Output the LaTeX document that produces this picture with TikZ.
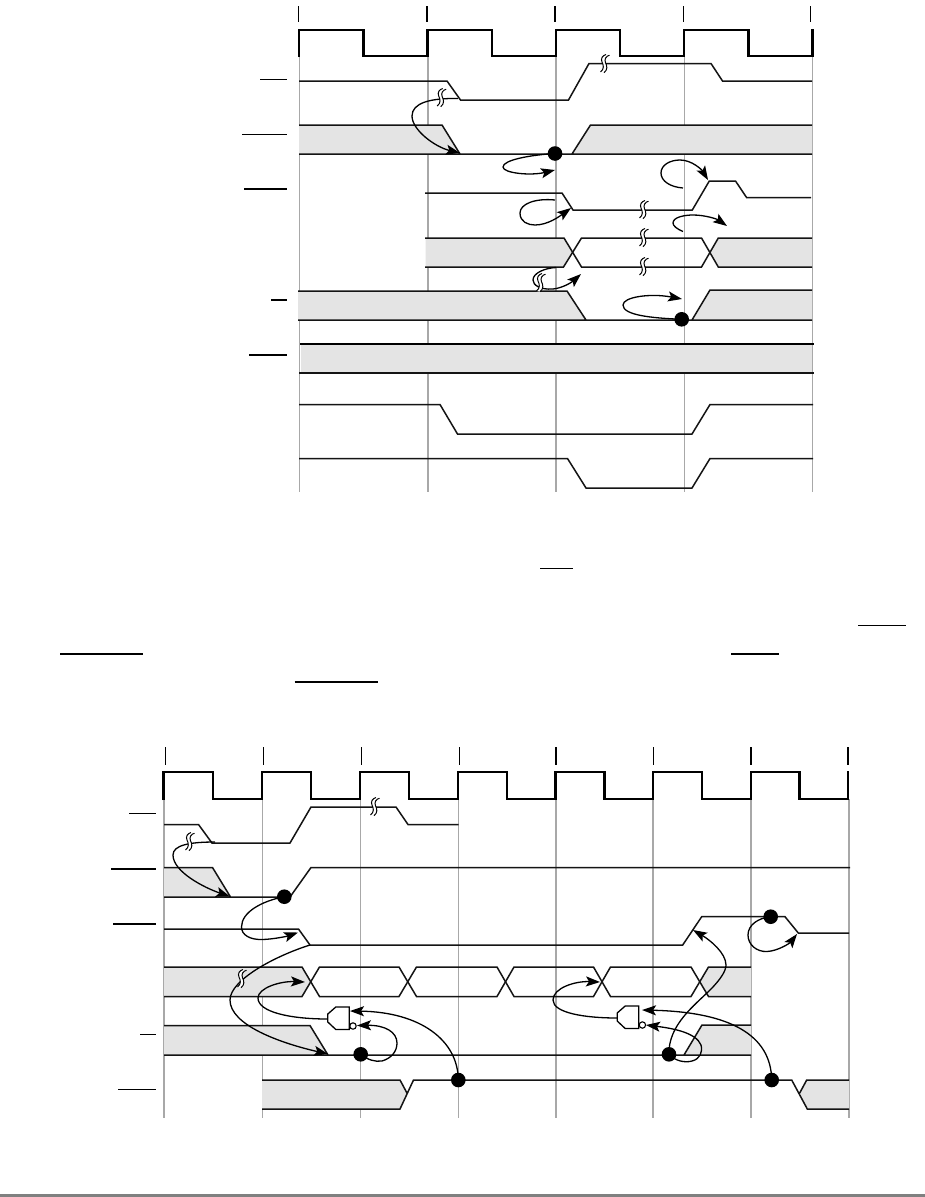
\documentclass[tikz,border=0pt]{standalone}
\usetikzlibrary{arrows.meta}
\definecolor{shade}{HTML}{E4E4E4}
\definecolor{gridgrey}{HTML}{A8A8A8}
\definecolor{rule}{HTML}{808080}
\tikzset{
  sig/.style={line width=1.5pt,black!92,line join=miter},
  clk/.style={line width=2.1pt,black,line join=miter},
  tick/.style={line width=1.2pt,black},
  grid/.style={line width=1.4pt,gridgrey},
  band/.style={fill=shade,draw=none},
  bar/.style={line width=1.4pt,black},
  barthick/.style={line width=2.2pt,black},
  cause/.style={line width=1.3pt,black,-{Stealth[length=14pt,width=10pt,inset=3pt]}},
  hold/.style={fill=black,draw=none},
  gatebody/.style={line width=1.3pt,black,fill=white},
}
\newcommand\brkmark[2]{%
  \begin{scope}[shift={(#1,#2)}]
    \fill[white] (1,-9.5) .. controls (-2.5,-8.5) and (-4.5,-5.5) .. (-3,-2) .. controls (-1.5,1) and (-0.5,5) .. (-4.5,8)
      -- (-1,8.7) .. controls (3,5.7) and (2,1.7) .. (0.5,-1.3) .. controls (-1,-4.8) and (1,-7.8) .. (4.5,-8.8) -- cycle;
    \draw[line width=1pt] (1,-9.5) .. controls (-2.5,-8.5) and (-4.5,-5.5) .. (-3,-2) .. controls (-1.5,1) and (-0.5,5) .. (-4.5,8);
    \draw[line width=1pt] (4.5,-8.8) .. controls (1,-7.8) and (-1,-4.8) .. (0.5,-1.3) .. controls (2,1.7) and (3,5.7) .. (-1,8.7);
  \end{scope}}
\newcommand\holddot[2]{\fill[hold] (#1) circle (7.3);\coordinate (#2) at (#1);}
\newcommand\nandgate[3]{%
  \begin{scope}[shift={(#1,#2)}]
    \draw[gatebody] (0,-12) -- (-13.5,-12) -- (-21.5,-5) -- (-21.5,3) -- (-13.5,10.5) -- (0,10.5) -- cycle;
    \draw[line width=1.1pt,fill=white] (3.7,7) circle (3.2);
    \coordinate (#3) at (-21.5,0);
  \end{scope}}
\begin{document}
\begin{tikzpicture}[x=1pt,y=-1pt]
\useasboundingbox (0,0) rectangle (925,1197);
\fill[white] (0,0) rectangle (925,1197);
% ---------- upper diagram ----------
\foreach \x in {299.5,428,556,684.5,812.5} \draw[grid] (\x,56) -- (\x,492);
\draw[grid] (428,44) -- (428,56);
\foreach \x in {298.5,427,555,683.7,810.5} \draw[tick] (\x,6) -- (\x,22);
% bands
\fill[band] (299,125) -- (442,125) -- (460,154) -- (299,154) -- cycle;
\fill[band] (572,154) -- (590.5,125) -- (812,125) -- (812,154) -- cycle;
\fill[band] (425.5,238) -- (564,238) -- (573,252.5) -- (563.5,267) -- (425.5,267) -- cycle;
\fill[band] (710,252.5) -- (718,238) -- (812,238) -- (812,267) -- (718,267) -- cycle;
\fill[band] (298,291) -- (567,291) -- (586,320) -- (298,320) -- cycle;
\fill[band] (692,320) -- (710,290) -- (812,290) -- (812,320) -- cycle;
\fill[band] (301,344) rectangle (812,373);
% clock
\draw[clk] (299,57) -- (299,30) -- (363.5,30) -- (363.5,56) -- (427.5,56) -- (427.5,30) -- (491.7,30) -- (491.7,56) -- (555.7,56) -- (555.7,30) -- (620,30) -- (620,56) -- (684,56) -- (684,30) -- (748.5,30) -- (748.5,56) -- (812.5,56) -- (812.5,29);
% signals
\draw[sig] (299,81) -- (447,81) -- (460.5,100) -- (568.5,100) -- (589,63.5) -- (711,63.5) -- (722.5,81) -- (812,81);
\draw[sig] (299,125) -- (442,125) -- (460,154) (299,154) -- (812,154) (572,154) -- (590.5,125) -- (812,125);
\draw[sig] (425,193) -- (562,193) -- (573,210) -- (692.3,210) -- (709.3,181) -- (735.5,181) -- (746.7,197.7) -- (811,197.7);
\draw[sig] (425,238) -- (564,238) -- (581.5,267) -- (701.5,267) -- (718.3,238) -- (812,238);
\draw[sig] (425,267) -- (563.5,267) -- (581.5,238) -- (701.5,238) -- (718.3,267) -- (812,267);
\draw[sig] (298,291) -- (567,291) -- (586,320) (298,320) -- (812,320) (692,320) -- (710,290) -- (812,290);
\draw[line width=1.9pt,black] (300,344) -- (814,344);
\draw[sig] (299,373) -- (814,373);
\draw[sig] (299,404.5) -- (440,404.5) -- (457.5,434) -- (692,434) -- (710,404.5) -- (813,404.5);
\draw[sig] (299,458.5) -- (567.5,458.5) -- (586,488) -- (692,488) -- (710,458.5) -- (813,458.5);
% overbars
\draw[bar] (260,79.5) -- (287,79.5);
\draw[bar] (242,134.5) -- (287,134.5);
\draw[bar] (244,189) -- (287,189);
\draw[bar] (271,300) -- (287,300);
\draw[bar] (249,355) -- (287,355);
% causal arrows
\holddot{555,153.5}{u1}
\holddot{681.7,319.3}{u2}
\draw[cause] (458,98.5) .. controls (430,98) and (412,103) .. (412,116) .. controls (412,130) and (435,147) .. (460,153);
\draw[cause] (u1) .. controls (530,155) and (503,160) .. (503,167) .. controls (503,173) and (530,176) .. (555,170);
\draw[cause] (555,200) .. controls (535,198) and (520,204) .. (520,213) .. controls (520,222) and (528,225) .. (535,225) .. controls (548,225) and (560,216) .. (571,208);
\draw[cause] (683,188) .. controls (670,187) and (661,181) .. (661,173) .. controls (661,165) and (670,160) .. (680,160) .. controls (692,160) and (702,170) .. (708,180);
\draw[cause] (683,231.5) .. controls (677,229) and (673,226) .. (673,223) .. controls (673,217) and (685,215) .. (693,215) .. controls (705,215) and (717,219) .. (727,226);
\draw[cause] (556,267.5) .. controls (545,268) and (533,273) .. (533,280) .. controls (533,285) and (540,290) .. (553,289) .. controls (563,288) and (572,282) .. (581,274);
\draw[cause] (u2) .. controls (650,318) and (623,315) .. (623,305) .. controls (623,297) and (650,293) .. (682,299);
% break marks
\brkmark{441.7}{98}
\brkmark{605}{64}
\brkmark{644}{210}
\brkmark{644}{238}
\brkmark{644}{267}
\brkmark{541}{283}
% ---------- running-text overbars ----------
\draw[bar] (540,568.3) -- (572.7,568.3);
\draw[bar] (858,625.3) -- (905.7,625.3);
\draw[barthick] (60,654) -- (143.3,654);
\draw[barthick] (731,654) -- (779,654);
\draw[bar] (294.5,682) -- (378,682);
% ---------- lower diagram ----------
\foreach \x in {164,262.5,360.5,458.5,556,653,751,849} \draw[grid] (\x,799) -- (\x,1118);
\foreach \x in {165.5,263.5,361.5,459.5,556,653.5,751,848} \draw[tick] (\x,747) -- (\x,765);
\fill[band] (164,867.5) -- (212.5,867.5) -- (230.5,897) -- (164,897) -- cycle;
\fill[band] (164,967) -- (302,967) -- (310.7,981.7) -- (302,996.5) -- (164,996.5) -- cycle;
\fill[band] (700,981.7) -- (708.5,967) -- (751,967) -- (751,996.5) -- (708.5,996.5) -- cycle;
\fill[band] (164,1025.5) -- (310,1025.5) -- (328,1055) -- (164,1055) -- cycle;
\fill[band] (684,1055) -- (702,1025) -- (751,1025) -- (751,1055) -- cycle;
\fill[band] (262,1080) -- (400,1080) -- (407.5,1094) -- (400,1109) -- (262,1109) -- cycle;
\fill[band] (799.7,1093) -- (806.7,1080) -- (849,1080) -- (849,1109) -- (807.3,1109) -- cycle;
\draw[clk] (163.5,800) -- (163.5,772) -- (213,772) -- (213,799) -- (262,799) -- (262,772) -- (311,772) -- (311,799) -- (360,799) -- (360,772) -- (409,772) -- (409,799) -- (458,799) -- (458,772) -- (507,772) -- (507,799) -- (555.5,799) -- (555.5,772) -- (604.5,772) -- (604.5,799) -- (653,799) -- (653,772) -- (702,772) -- (702,799) -- (751,799) -- (751,772) -- (799.5,772) -- (799.5,799) -- (848,799) -- (848,771);
\draw[sig] (164,824.5) -- (198.5,824.5) -- (212,843) -- (290,843) -- (311,807) -- (396,807) -- (408,824.5) -- (458.5,824.5);
\draw[sig] (164,867.5) -- (212.5,867.5) -- (230.5,897) (164,897) -- (285,897) (290,897) -- (311,867.5) -- (850,867.5);
\draw[sig] (164,929) -- (298.5,929) -- (310,945) -- (682.7,945) -- (701.7,916.7) -- (785,916.7) -- (798.3,933) -- (849,933);
\draw[sig] (164,967) -- (302,967) -- (319.5,996.5) -- (399,996.5) -- (416.5,967) -- (497,967) -- (514,996.5) -- (593.5,996.5) -- (610.5,967) -- (691,967) -- (708.5,996.5) -- (751,996.5);
\draw[sig] (164,996.5) -- (302,996.5) -- (319.5,967) -- (399,967) -- (416.5,996.5) -- (497,996.5) -- (514,967) -- (593.5,967) -- (610.5,996.5) -- (691,996.5) -- (708.5,967) -- (751,967);
\draw[sig] (164,1025.5) -- (310,1025.5) -- (328,1055) (164,1055) -- (751,1055) (684,1055) -- (702,1025) -- (751,1025);
\draw[sig] (407.5,1094) -- (400,1080) -- (262,1080) (262,1109) -- (400,1109) -- (413.5,1080) -- (791.7,1080) -- (807.3,1109) -- (849,1109) (799.7,1093) -- (806.7,1080) -- (849,1080);
\draw[bar] (129,813.3) -- (156,813.3);
\draw[bar] (111,869) -- (156,869);
\draw[bar] (113,924) -- (156,924);
\draw[bar] (140,1034.3) -- (156,1034.3);
\draw[bar] (118,1089.3) -- (156,1089.3);
% gates
\nandgate{349.3}{1019}{g1}
\nandgate{638.7}{1018}{g2}
% dots
\holddot{284.3,896.7}{d1}
\holddot{770.7,916.7}{d2}
\holddot{360.7,1054.3}{d3}
\holddot{669,1054.3}{d4}
\holddot{458.3,1080}{d5}
\holddot{771.7,1080}{d6}
% causal arrows
\draw[cause] (215,842) .. controls (190,842) and (173,845) .. (173,855) .. controls (173,872) and (205,888) .. (230,896.5);
\draw[cause] (d1) .. controls (262,901) and (241.5,912) .. (241.5,927) .. controls (241.5,935) and (250,940) .. (263,939.5) .. controls (275,939) and (288,936) .. (298,932.5);
\draw[cause] (310,945) .. controls (275,956) and (230,980) .. (230,1000) .. controls (230,1025) and (280,1043) .. (328,1054);
\draw[cause] (g1) .. controls (290,1019) and (258,1012) .. (258,998) .. controls (258,988) and (280,981) .. (305,982);
\draw[cause] (d5) .. controls (458,1040) and (420,1012) .. (350,1011);
\draw[cause] (d3) .. controls (368,1060) and (375,1062) .. (382,1061) .. controls (392,1058) and (397,1051) .. (397,1043) .. controls (397,1032) and (385,1025) .. (357,1025.5);
\draw[cause] (g2) .. controls (585,1018) and (553,1013) .. (553,1000) .. controls (553,988) and (575,981) .. (600,982);
\draw[cause] (d6) .. controls (771,1035) and (730,1012) .. (642,1010);
\draw[cause] (d4) .. controls (675,1061) and (685,1063) .. (692,1061) .. controls (700,1059) and (703,1052) .. (701,1045) .. controls (696,1032) and (670,1028) .. (646,1025);
\draw[cause] (d4) .. controls (668,1025) and (695,1005) .. (710,990) .. controls (722,978) and (726,970) .. (726,965) .. controls (726,953) and (710,940) .. (693,930);
\draw[cause] (d2) .. controls (758,918) and (748,925) .. (748,935) .. controls (748,945) and (757,952) .. (767,951.5) .. controls (778,951) and (790,943) .. (797,934);
\brkmark{190}{842}
\brkmark{375}{807}
\brkmark{242}{979}
% page rule
\fill[rule] (0,1194) rectangle (925,1197);
\end{tikzpicture}
\end{document}
